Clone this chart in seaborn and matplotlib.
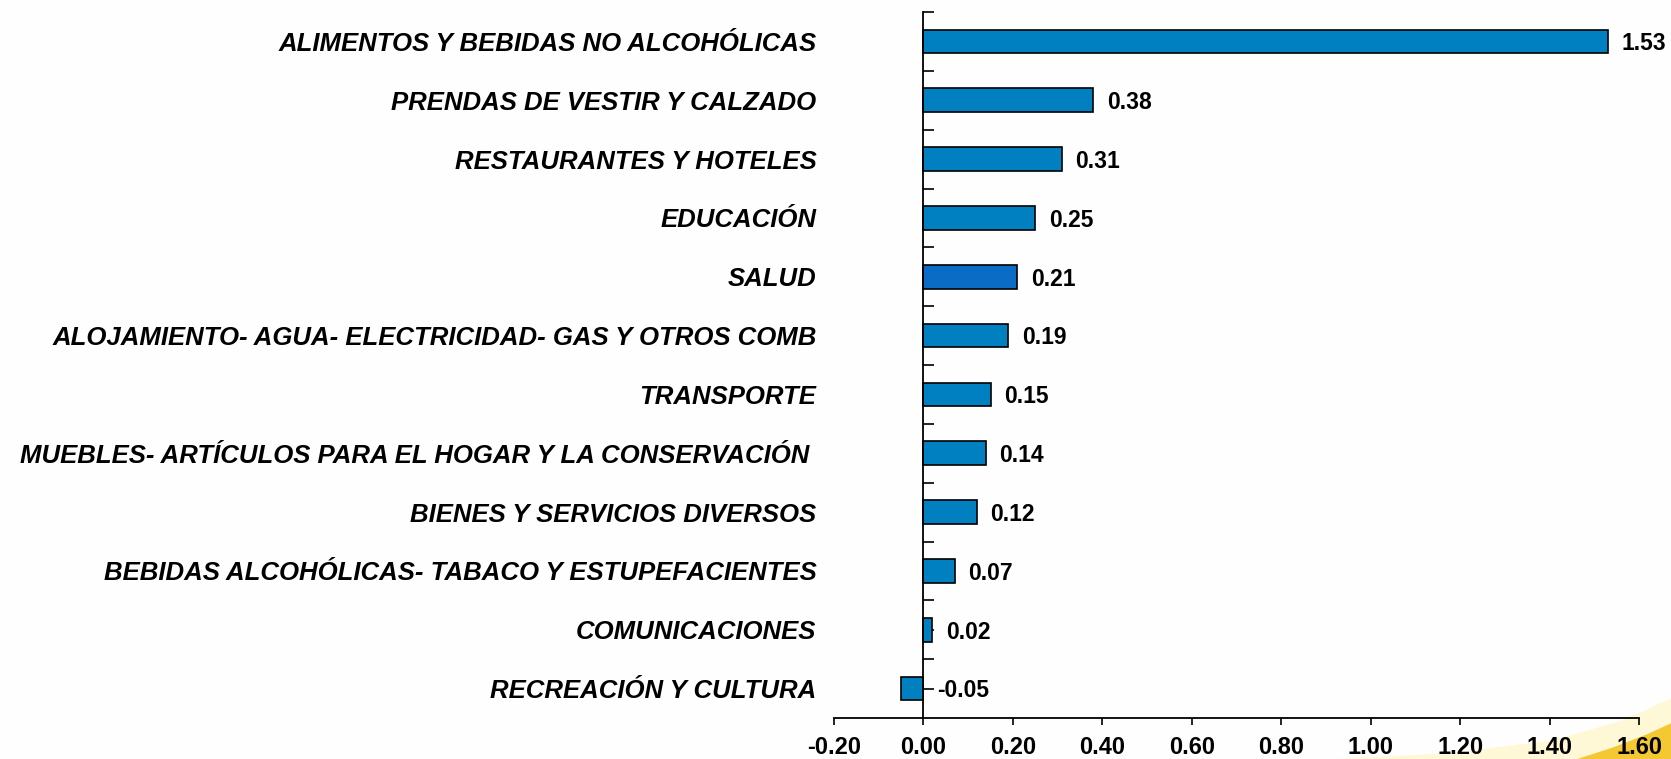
import numpy as np
import pandas as pd
import seaborn as sns
import matplotlib.pyplot as plt
from matplotlib.patches import Polygon

# datos (variación, puntos porcentuales)
categorias = [
    'ALIMENTOS Y BEBIDAS NO ALCOHÓLICAS',
    'PRENDAS DE VESTIR Y CALZADO',
    'RESTAURANTES Y HOTELES',
    'EDUCACIÓN',
    'SALUD',
    'ALOJAMIENTO- AGUA- ELECTRICIDAD- GAS Y OTROS COMB',
    'TRANSPORTE',
    'MUEBLES- ARTÍCULOS PARA EL HOGAR Y LA CONSERVACIÓN ',
    'BIENES Y SERVICIOS DIVERSOS',
    'BEBIDAS ALCOHÓLICAS- TABACO Y ESTUPEFACIENTES',
    'COMUNICACIONES',
    'RECREACIÓN Y CULTURA',
]
valores = [1.53, 0.38, 0.31, 0.25, 0.21, 0.19, 0.15, 0.14, 0.12, 0.07, 0.02, -0.05]
ticks_x = [-0.20, 0.00, 0.20, 0.40, 0.60, 0.80, 1.00, 1.20, 1.40, 1.60]

AZUL = '#0080C0'
AZUL_SALUD = '#0A6CC4'


def plot_incidencias():
    df = pd.DataFrame({'categoria': categorias, 'valor': valores})
    colores = [AZUL_SALUD if c == 'SALUD' else AZUL for c in categorias]

    sns.set_style('white')
    plt.rcParams['font.family'] = ['Liberation Sans', 'DejaVu Sans']

    fig = plt.figure(figsize=(16.71, 7.59), dpi=100)
    fig.patch.set_facecolor('#FEFEFE')
    ax = fig.add_axes([834 / 1671, 41 / 759, 805 / 1671, 706 / 759])
    ax.patch.set_alpha(0)

    sns.barplot(data=df, y='categoria', x='valor', hue='categoria',
                palette=colores, saturation=1, legend=False, orient='h',
                width=0.4, edgecolor='black', linewidth=1.2, ax=ax, zorder=2)

    ax.set_xlim(-0.2, 1.6)
    ax.set_ylim(len(categorias) - 0.5, -0.5)
    ax.set_xlabel('')
    ax.set_ylabel('')

    # ejes estilo Excel
    for s in ['top', 'right']:
        ax.spines[s].set_visible(False)
    ax.spines['left'].set_position(('data', 0))
    ax.spines['left'].set_zorder(3)
    for s in ['left', 'bottom']:
        ax.spines[s].set_color('black')
        ax.spines[s].set_linewidth(1.3)

    ax.set_xticks(ticks_x)
    ax.set_xticklabels([f'{t:.2f}' for t in ticks_x], fontsize=17, fontweight='bold')
    ax.tick_params(axis='x', bottom=True, direction='out', length=5, width=1.2,
                   pad=8, colors='black')

    ax.set_yticks(range(len(categorias)))
    ax.set_yticklabels(categorias, fontsize=18.5, fontweight='bold', style='italic')
    ax.set_yticks(np.arange(-0.5, len(categorias) - 1, 1), minor=True)
    ax.tick_params(axis='y', which='both', left=True, direction='in', length=8,
                   width=1.2, colors='black')
    ax.tick_params(axis='y', which='major', pad=77)

    # etiquetas de valor
    for i, v in enumerate(valores):
        ax.text(max(v, 0) + 0.03, i + 0.04, f'{v:.2f}', ha='left', va='center',
                fontsize=16.5, fontweight='bold', color='black', zorder=4)

    # adorno amarillo inferior derecho
    fig.patches.append(Polygon([(0.80, 0), (1.0, 0), (1.0, 0.08), (0.97, 0.05),
                                (0.93, 0.025), (0.87, 0.008)],
                               closed=True, transform=fig.transFigure,
                               facecolor='#FFF8D6', edgecolor='none', zorder=-2))
    fig.patches.append(Polygon([(0.944, 0), (1.0, 0), (1.0, 0.047), (0.985, 0.032),
                                (0.965, 0.015)],
                               closed=True, transform=fig.transFigure,
                               facecolor='#F4C832', edgecolor='none', zorder=-1))

    fig.savefig('out.png', dpi=100, facecolor=fig.get_facecolor())


if __name__ == '__main__':
    plot_incidencias()
